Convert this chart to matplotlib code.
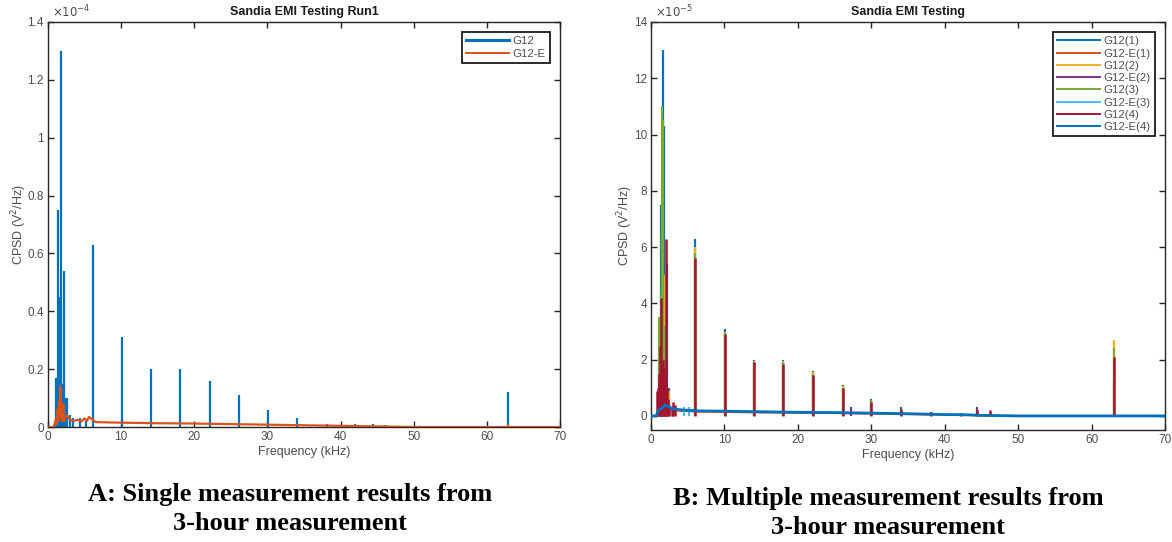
import numpy as np
import matplotlib
matplotlib.use('Agg')
import matplotlib.pyplot as plt
from matplotlib.ticker import FuncFormatter, MultipleLocator

plt.rcParams['font.family'] = ['Liberation Sans', 'DejaVu Sans']

# MATLAB default line colours
C_BLUE = '#0072BD'
C_ORANGE = '#D95319'
C_YELLOW = '#EDB120'
C_PURPLE = '#7E2F8E'
C_GREEN = '#77AC30'
C_CYAN = '#4DBEEE'
C_RED = '#A2142F'

# ---------------------------------------------------------------------------
# Run 1 (panel A), CPSD in V^2/Hz
# ---------------------------------------------------------------------------
a_g12_spike_f = [1.1, 1.35, 1.5, 1.75, 1.9, 2.15, 2.35, 2.55, 3.0, 3.4, 4.4, 5.2,
                 6.1, 10.1, 14.1, 18.1, 22.1, 26.1, 30.1, 34.1, 38.1, 42.0, 44.4, 46.1, 62.9]
a_g12_spike_v = [0.17e-4, 0.75e-4, 0.45e-4, 1.30e-4, 0.15e-4, 0.54e-4, 0.10e-4, 0.10e-4,
                 0.04e-4, 0.03e-4, 0.03e-4, 0.02e-4,
                 0.63e-4, 0.31e-4, 0.20e-4, 0.20e-4, 0.16e-4, 0.11e-4, 0.06e-4, 0.03e-4,
                 0.012e-4, 0.01e-4, 0.012e-4, 0.006e-4, 0.12e-4]

a_e_floor_f = [0.0, 0.8, 1.1, 1.2, 1.3, 1.4, 1.5, 1.6, 1.7, 1.8, 1.9, 2.0, 2.1, 2.2,
               2.3, 2.6, 3.0, 3.5, 4.0, 4.6, 5.0, 5.3, 5.6, 6.5, 8.0, 10.0, 15.0, 20.0,
               25.0, 30.0, 35.0, 40.0, 45.0, 50.0, 70.0]
a_e_floor_v = [0.0, 0.0, 0.03e-4, 0.01e-4, 0.06e-4, 0.02e-4, 0.09e-4, 0.03e-4, 0.14e-4,
               0.04e-4, 0.05e-4, 0.02e-4, 0.08e-4, 0.02e-4, 0.03e-4, 0.04e-4, 0.025e-4,
               0.02e-4, 0.025e-4, 0.02e-4, 0.03e-4, 0.02e-4, 0.035e-4, 0.017e-4, 0.016e-4,
               0.015e-4, 0.013e-4, 0.012e-4, 0.01e-4, 0.008e-4, 0.006e-4, 0.004e-4,
               0.002e-4, 0.0, 0.0]
a_e_spike_f = [62.9]
a_e_spike_v = [0.012e-4]

# ---------------------------------------------------------------------------
# Runs 1-4 (panel B), CPSD in V^2/Hz
# ---------------------------------------------------------------------------
harm_f = [6.05, 10.05, 14.05, 18.0, 22.1, 26.1, 30.0, 34.1, 38.1, 42.2, 44.4, 46.1, 63.0]

b_g12_1_v = [6.3e-5, 3.1e-5, 2.0e-5, 2.0e-5, 1.6e-5, 1.1e-5, 0.6e-5, 0.3e-5,
             0.15e-5, 0.1e-5, 0.12e-5, 0.05e-5, 1.2e-5]
b_g12_2_v = [6.0e-5, 3.0e-5, 1.95e-5, 1.95e-5, 1.55e-5, 1.05e-5, 0.55e-5, 0.25e-5,
             0.1e-5, 0.1e-5, 0.1e-5, 0.1e-5, 2.7e-5]
b_g12_3_v = [5.8e-5, 2.95e-5, 1.9e-5, 1.9e-5, 1.5e-5, 1.0e-5, 0.55e-5, 0.25e-5,
             0.1e-5, 0.1e-5, 0.1e-5, 0.1e-5, 2.4e-5]
b_g12_4_v = [5.6e-5, 2.9e-5, 1.9e-5, 1.85e-5, 1.45e-5, 1.0e-5, 0.5e-5, 0.25e-5,
             0.15e-5, 0.1e-5, 0.2e-5, 0.2e-5, 2.1e-5]

# low-frequency clusters (1-3 kHz)
b_g12_1_cf = [1.1, 1.35, 1.5, 1.7, 1.8, 2.15, 2.4]
b_g12_1_cv = [1.7e-5, 7.5e-5, 4.5e-5, 13.0e-5, 10.3e-5, 5.4e-5, 1.0e-5]
b_g12_2_cf = [1.55, 1.65, 1.85, 2.1, 2.45]
b_g12_2_cv = [6.5e-5, 2.5e-5, 5.0e-5, 1.7e-5, 0.9e-5]
b_g12_3_cf = [1.15, 1.4, 1.5, 1.6, 1.9, 2.2]
b_g12_3_cv = [3.5e-5, 4.3e-5, 11.0e-5, 10.5e-5, 3.2e-5, 0.7e-5]
b_g12_4_cf = [0.85, 0.95, 1.05, 1.15, 1.25, 1.3, 1.4, 1.5, 1.6, 1.7, 1.8, 1.9, 2.0,
              2.1, 2.2, 2.35, 2.5, 2.8, 3.0, 3.3]
b_g12_4_cv = [0.9e-5, 1.0e-5, 1.2e-5, 1.5e-5, 2.5e-5, 1.8e-5, 4.2e-5, 1.6e-5, 2.0e-5,
              1.4e-5, 1.7e-5, 1.3e-5, 1.2e-5, 6.3e-5, 1.0e-5, 0.6e-5, 0.4e-5, 0.3e-5,
              0.5e-5, 0.4e-5]

b_e2_spike_f = [27.3, 44.4]
b_e2_spike_v = [0.3e-5, 0.3e-5]
b_e3_spike_f = [4.5, 5.2]
b_e3_spike_v = [0.3e-5, 0.3e-5]

b_floor_f = [0.0, 0.7, 1.0, 1.3, 1.6, 1.9, 2.2, 2.6, 3.0, 4.0, 5.0, 6.5, 10.0,
             15.0, 20.0, 25.0, 30.0, 35.0, 40.0, 43.0, 45.0, 50.0, 70.0]
b_floor_v = [0.0, 0.0, 0.2e-5, 0.25e-5, 0.3e-5, 0.4e-5, 0.35e-5, 0.3e-5, 0.25e-5,
             0.22e-5, 0.2e-5, 0.18e-5, 0.17e-5, 0.15e-5, 0.13e-5, 0.12e-5, 0.1e-5,
             0.08e-5, 0.05e-5, 0.04e-5, 0.02e-5, 0.0, 0.0]
b_e1_floor_v = [0.0, 0.0, 0.15e-5, 0.2e-5, 0.25e-5, 0.3e-5, 0.3e-5, 0.25e-5, 0.2e-5,
                0.18e-5, 0.17e-5, 0.15e-5, 0.14e-5, 0.12e-5, 0.11e-5, 0.1e-5, 0.08e-5,
                0.06e-5, 0.04e-5, 0.03e-5, 0.01e-5, 0.0, 0.0]

b_names = ['G12(1)', 'G12-E(1)', 'G12(2)', 'G12-E(2)',
           'G12(3)', 'G12-E(3)', 'G12(4)', 'G12-E(4)']

FRAME = '#262626'
TICKC = '#4d4d4d'


def style_axes(ax, ymax, ystep, exp, ymin=0.0):
    ax.set_xlim(0, 70)
    ax.set_ylim(ymin, ymax)
    ax.xaxis.set_major_locator(MultipleLocator(10))
    ax.yaxis.set_major_locator(MultipleLocator(ystep))
    scale = 10.0 ** exp
    ax.yaxis.set_major_formatter(FuncFormatter(lambda v, p: '%g' % round(v / scale, 6)))
    ax.tick_params(direction='in', top=True, right=True, length=4, width=1,
                   colors=FRAME, labelcolor=TICKC, labelsize=8.5, pad=3)
    for s in ax.spines.values():
        s.set_color(FRAME)
        s.set_linewidth(1.0)
    ax.text(0.008, 1.004, r'$\times 10^{%d}$' % exp, transform=ax.transAxes,
            fontsize=8.5, color=TICKC, ha='left', va='bottom')
    ax.set_xlabel('Frequency (kHz)', fontsize=9, color=TICKC, labelpad=2)
    ax.set_ylabel(r'CPSD (V$^2$/Hz)', fontsize=9, color=TICKC, labelpad=-1)


def draw_spikes(ax, f, v, color, lw=1.6):
    ax.vlines(f, 0, v, colors=color, lw=lw)


def add_legend(ax, handles, names):
    leg = ax.legend(handles, names, loc='upper right', fontsize=8.2,
                    fancybox=False, edgecolor='#1a1a1a', framealpha=1,
                    handlelength=3.8, handletextpad=0.3, borderpad=0.35,
                    labelspacing=0.2, borderaxespad=0.9)
    leg.get_frame().set_linewidth(1.3)
    for t in leg.get_texts():
        t.set_color(TICKC)
    return leg


fig = plt.figure(figsize=(11.72, 5.42), dpi=100)

# ---- panel A ----
axA = fig.add_axes([48 / 1172, 1 - 427 / 542, (560 - 48) / 1172, (427 - 22) / 542])
draw_spikes(axA, a_g12_spike_f, a_g12_spike_v, C_BLUE)
axA.plot(a_e_floor_f, a_e_floor_v, color=C_ORANGE, lw=1.6, zorder=3)
draw_spikes(axA, a_e_spike_f, a_e_spike_v, C_ORANGE)
style_axes(axA, 1.4e-4, 0.2e-4, -4)
axA.set_title('Sandia EMI Testing Run1', fontsize=9, fontweight='bold',
              color='#1a1a1a', pad=5)
hA = [plt.Line2D([], [], color=C_BLUE, lw=2.2), plt.Line2D([], [], color=C_ORANGE, lw=1.4)]
add_legend(axA, hA, ['G12', 'G12-E'])

# ---- panel B ----
axB = fig.add_axes([651 / 1172, 1 - 430 / 542, (1165 - 651) / 1172, (430 - 22) / 542])
draw_spikes(axB, b_g12_1_cf + harm_f, b_g12_1_cv + b_g12_1_v, C_BLUE)
axB.plot(b_floor_f, b_e1_floor_v, color=C_ORANGE, lw=1.4)
draw_spikes(axB, b_g12_2_cf + harm_f, b_g12_2_cv + b_g12_2_v, C_YELLOW)
draw_spikes(axB, b_e2_spike_f, b_e2_spike_v, C_PURPLE)
draw_spikes(axB, b_g12_3_cf + harm_f, b_g12_3_cv + b_g12_3_v, C_GREEN)
draw_spikes(axB, b_e3_spike_f, b_e3_spike_v, C_CYAN)
draw_spikes(axB, b_g12_4_cf + harm_f, b_g12_4_cv + b_g12_4_v, C_RED, lw=1.8)
axB.plot(b_floor_f, b_floor_v, color=C_BLUE, lw=2.0, zorder=3)
style_axes(axB, 14e-5, 2e-5, -5, ymin=-0.5e-5)
axB.set_title('Sandia EMI Testing', fontsize=9, fontweight='bold',
              color='#1a1a1a', pad=5)
b_colors = [C_BLUE, C_ORANGE, C_YELLOW, C_PURPLE, C_GREEN, C_CYAN, C_RED, C_BLUE]
hB = [plt.Line2D([], [], color=c, lw=1.4) for c in b_colors]
add_legend(axB, hB, b_names)

# ---- captions ----
cap_font = dict(family=['Liberation Serif', 'DejaVu Serif'], fontsize=19,
                fontweight='bold', ha='center', va='center', linespacing=1.3)
fig.text(290 / 1172, 1 - 509 / 542, 'A: Single measurement results from\n3-hour measurement',
         **cap_font)
fig.text(888 / 1172, 1 - 513 / 542, 'B: Multiple measurement results from\n3-hour measurement',
         **cap_font)

fig.savefig('out.png', dpi=100)
